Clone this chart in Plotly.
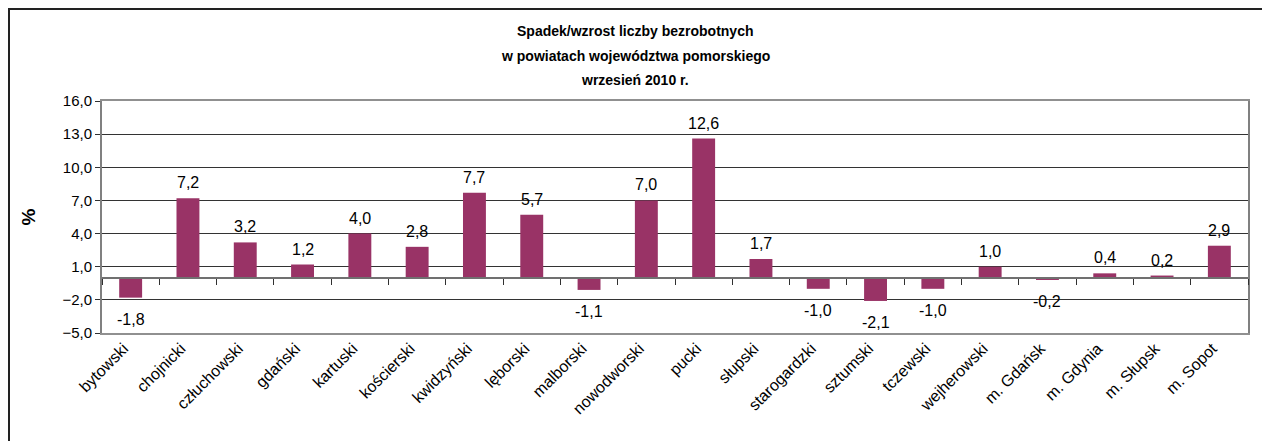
import plotly.graph_objects as go

categories = ["bytowski", "chojnicki", "człuchowski", "gdański", "kartuski", "kościerski",
              "kwidzyński", "lęborski", "malborski", "nowodworski", "pucki", "słupski",
              "starogardzki", "sztumski", "tczewski", "wejherowski", "m. Gdańsk",
              "m. Gdynia", "m. Słupsk", "m. Sopot"]
values = [-1.8, 7.2, 3.2, 1.2, 4.0, 2.8, 7.7, 5.7, -1.1, 7.0, 12.6, 1.7,
          -1.0, -2.1, -1.0, 1.0, -0.2, 0.4, 0.2, 2.9]
y_ticks = [-5, -2, 1, 4, 7, 10, 13, 16]
title_lines = ["Spadek/wzrost liczby bezrobotnych",
               "w powiatach województwa pomorskiego",
               "wrzesień 2010 r."]

FONT = "Liberation Sans, Arial, sans-serif"
OFF = 8  # page body margin
W, H = 1270 - OFF, 441 - OFF
ML, MR, MT, MB = 102 - OFF, 22, 101 - OFF, 108
pw, ph = W - ML - MR, H - MT - MB

def px_to_paper_x(px):  # px in page coordinates
    return (px - OFF - ML) / pw

def px_to_paper_y(py):
    return (H - MB - (py - OFF)) / ph

fig = go.Figure()
fig.add_trace(go.Bar(
    x=categories, y=values, width=0.4,
    marker=dict(color="#993366", line=dict(width=0)),
    hoverinfo="skip", showlegend=False,
))
# invisible trace to build the zero-line category axis with boundary ticks
fig.add_trace(go.Scatter(
    x=categories, y=values, xaxis="x2", mode="markers",
    marker=dict(opacity=0), hoverinfo="skip", showlegend=False,
))

for c, v in zip(categories, values):
    fig.add_annotation(
        x=c, y=v, xref="x", yref="y",
        text=f"{v:.1f}".replace(".", ","), showarrow=False,
        yanchor="bottom" if v >= 0 else "top",
        yshift=5 if v >= 0 else -11,
        font=dict(family=FONT, size=16, color="black"),
    )

ymin, ymax = min(y_ticks), max(y_ticks)
zero_pos = (0 - ymin) / (ymax - ymin)

fig.update_layout(
    width=W, height=H,
    margin=dict(l=ML, r=MR, t=MT, b=MB),
    paper_bgcolor="white", plot_bgcolor="white",
    separators=", ",
    font=dict(family=FONT, size=14, color="black"),
    xaxis=dict(
        type="category", categoryorder="array", categoryarray=categories,
        range=[-0.5, len(categories) - 0.5],
        showline=True, mirror=True, linecolor="#909090", linewidth=2,
        ticks="", tickangle=-45, showgrid=False, zeroline=False,
        ticklabelshift=-7, ticklabelstandoff=-2,
        tickfont=dict(family=FONT, size=16, color="black"),
    ),
    xaxis2=dict(
        type="category", categoryorder="array", categoryarray=categories,
        range=[-0.5, len(categories) - 0.5],
        overlaying="x", anchor="free", position=zero_pos, side="bottom",
        showline=True, linecolor="#707070", linewidth=2,
        ticks="outside", ticklen=6, tickcolor="#303030", tickwidth=1,
        tickson="boundaries", showticklabels=False, showgrid=False, zeroline=False,
    ),
    yaxis=dict(
        range=[ymin, ymax], tickvals=y_ticks, tickformat=".1f",
        showline=True, mirror=True, linecolor="#808080", linewidth=2,
        ticks="outside", ticklen=5, tickcolor="#303030",
        showgrid=True, gridcolor="#333333", gridwidth=1, zeroline=False,
        tickfont=dict(family=FONT, size=15, color="black"),
        title=dict(text="<b>%</b>", font=dict(family=FONT, size=19, color="black"), standoff=22),
    ),
)

for line, py in zip(title_lines, [31, 56, 80]):
    fig.add_annotation(
        text=f"<b>{line}</b>", xref="paper", yref="paper",
        x=px_to_paper_x(635), y=px_to_paper_y(py),
        xanchor="center", yanchor="middle", showarrow=False,
        font=dict(family=FONT, size=14, color="black"),
    )

fig.add_shape(
    type="rect", xref="paper", yref="paper",
    x0=px_to_paper_x(OFF + 1), x1=px_to_paper_x(1267),
    y0=px_to_paper_y(470), y1=px_to_paper_y(OFF + 1),
    line=dict(color="#222222", width=2), fillcolor="rgba(0,0,0,0)", layer="below",
)

fig.write_html("out.html")
